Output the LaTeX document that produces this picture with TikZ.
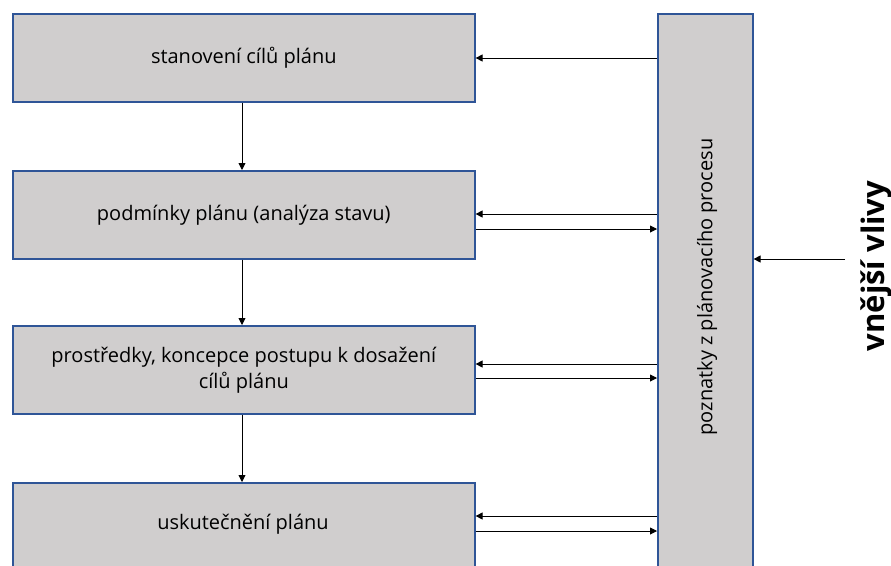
\documentclass[tikz,border=0pt]{standalone}
\usepackage{fontspec}
\setmainfont{Open Sans}
\usetikzlibrary{arrows.meta}
\definecolor{boxfill}{RGB}{208,206,206}
\definecolor{boxline}{RGB}{47,85,151}
\begin{document}
\begin{tikzpicture}[x=1pt,y=-1pt,
  txt/.style={font=\fontsize{20}{26}\selectfont},
  stepbox/.style={draw=boxline,fill=boxfill,line width=1.6pt,minimum width=462pt,minimum height=88pt,anchor=north west,inner sep=0pt,align=center,txt},
  conn/.style={line width=0.9pt,-{Triangle[length=7pt,width=7pt]}}]
\useasboundingbox (0,0) rectangle (891,565);
\node[stepbox] (b1) at (12,13) {stanovení cílů plánu};
\node[stepbox] (b2) at (12,170) {podmínky plánu (analýza stavu)};
\node[stepbox] (b3) at (12,325) {prostředky, koncepce postupu k dosažení\\cílů plánu};
\node[stepbox,minimum height=100pt] (b4) at (12,482) {};
\node[txt] (t4) at (243,524) {uskutečnění plánu};
\node[draw=boxline,fill=boxfill,line width=1.6pt,anchor=north west,minimum width=95pt,minimum height=570pt,inner sep=0pt] (side) at (657,13) {};
\node[rotate=90,font=\fontsize{20}{24}\selectfont] (st) at (707,287) {poznatky z plánovacího procesu};
\node[rotate=90,font=\fontsize{31}{34}\bfseries\selectfont] (ext) at (876,266) {vnější vlivy};
\coordinate (e0) at (845,259);
\draw[conn] (b1.south -| 242,0) -- (b2.north -| 242,0);
\draw[conn] (b2.south -| 242,0) -- (b3.north -| 242,0);
\draw[conn] (b3.south -| 242,0) -- (b4.north -| 242,0);
\draw[conn] (side.west |- 0,58) -- (b1.east |- 0,58);
\draw[conn] (side.west |- 0,214) -- (b2.east |- 0,214);
\draw[conn] (b2.east |- 0,229) -- (side.west |- 0,229);
\draw[conn] (side.west |- 0,364) -- (b3.east |- 0,364);
\draw[conn] (b3.east |- 0,378) -- (side.west |- 0,378);
\draw[conn] (side.west |- 0,516) -- (b4.east |- 0,516);
\draw[conn] (b4.east |- 0,531) -- (side.west |- 0,531);
\draw[conn] (e0) -- (side.east |- e0);
\end{tikzpicture}
\end{document}
